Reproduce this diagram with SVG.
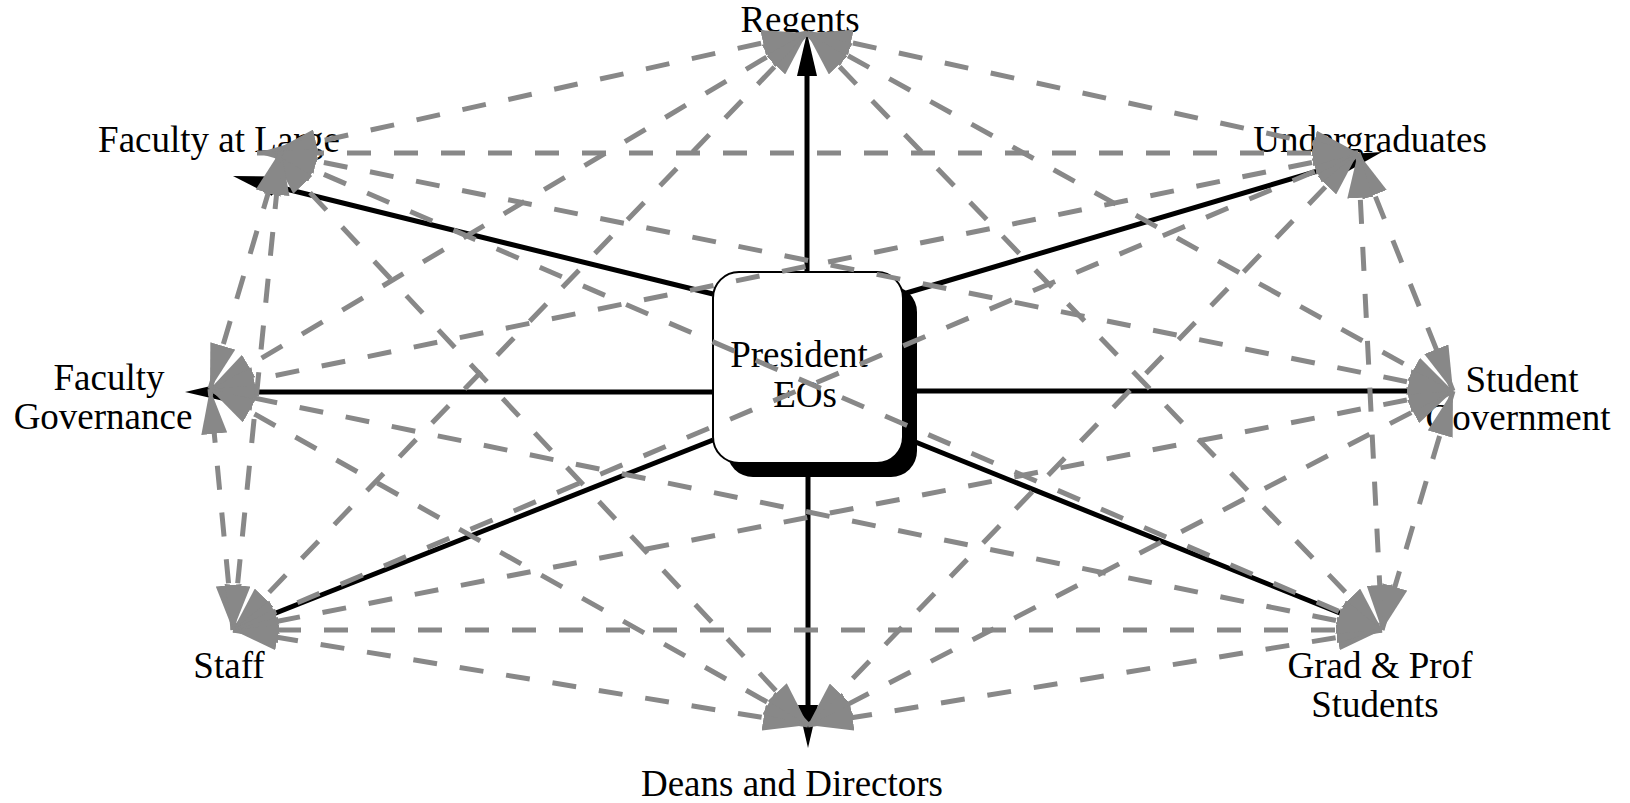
<svg xmlns="http://www.w3.org/2000/svg" width="1630" height="803" viewBox="0 0 1630 803">
  <style>
    .lbl { font-family: "Liberation Serif", "Times New Roman", serif; font-size: 37px; fill: #000; text-anchor: middle; }
    .ctl { stroke: #000; stroke-width: 5; fill: none; marker-end: url(#bh); }
    .rel { stroke: #888; stroke-width: 5; fill: none; stroke-dasharray: 24 23; marker-start: url(#gh); marker-end: url(#gh); }
  </style>
  <defs>
    <marker id="bh" viewBox="0 -10 43 20" refX="23" refY="0" markerWidth="43" markerHeight="20" markerUnits="userSpaceOnUse" orient="auto">
      <path d="M0,-10 L43,0 L0,10 Z" fill="#000"/>
    </marker>
    <marker id="gh" viewBox="0 -13 45 26" refX="45" refY="0" markerWidth="45" markerHeight="26" markerUnits="userSpaceOnUse" orient="auto-start-reverse">
      <path d="M0,-13 L45,0 L0,13 Z" fill="#888"/>
    </marker>
  </defs>
  <rect width="1630" height="803" fill="#fff"/>

  <!-- central office with drop shadow -->
  <g id="president">
    <rect x="727" y="286" width="190" height="191" rx="26" fill="#000"/>
    <rect x="713" y="272" width="190" height="191" rx="26" fill="#fff" stroke="#000" stroke-width="2"/>
    <text class="lbl" x="799" y="367">President</text>
    <text class="lbl" x="805" y="407">EOs</text>
  </g>

  <!-- reporting lines from the president -->
  <g id="control-lines">
    <line class="ctl" x1="807" y1="272" x2="807" y2="53"/>
    <line class="ctl" x1="808" y1="463" x2="808" y2="728"/>
    <line class="ctl" x1="713" y1="392" x2="205" y2="392"/>
    <line class="ctl" x1="903" y1="391" x2="1433" y2="391"/>
    <line class="ctl" x1="713" y1="294" x2="252.4" y2="180.8"/>
    <line class="ctl" x1="903" y1="294" x2="1362.8" y2="157.7"/>
    <line class="ctl" x1="713" y1="440" x2="251.6" y2="622.6"/>
    <line class="ctl" x1="903" y1="437" x2="1363.4" y2="622.5"/>
  </g>

  <!-- constituencies -->
  <g id="regents"><text class="lbl" x="800" y="32">Regents</text></g>
  <g id="faculty-at-large"><text class="lbl" x="219" y="152">Faculty at Large</text></g>
  <g id="undergraduates"><text class="lbl" x="1370" y="152">Undergraduates</text></g>
  <g id="faculty-governance">
    <text class="lbl" x="109" y="390">Faculty</text>
    <text class="lbl" x="103" y="429">Governance</text>
  </g>
  <g id="student-government">
    <text class="lbl" x="1522" y="392">Student</text>
    <text class="lbl" x="1518" y="430">Government</text>
  </g>
  <g id="staff"><text class="lbl" x="229" y="678">Staff</text></g>
  <g id="grad-prof-students">
    <text class="lbl" x="1380" y="678">Grad &amp; Prof</text>
    <text class="lbl" x="1375" y="717">Students</text>
  </g>
  <g id="deans-directors"><text class="lbl" x="792" y="796">Deans and Directors</text></g>

  <!-- peer relationships between constituencies -->
  <g id="relations">
    <!-- Regents -->
    <line class="rel" x1="807" y1="33" x2="1358" y2="153"/>
    <line class="rel" x1="807" y1="33" x2="1453" y2="391"/>
    <line class="rel" x1="807" y1="33" x2="1382" y2="630"/>
    <line class="rel" x1="807" y1="33" x2="233" y2="630"/>
    <line class="rel" x1="807" y1="33" x2="210" y2="389"/>
    <line class="rel" x1="807" y1="33" x2="272" y2="152"/>
    <!-- Undergraduates -->
    <line class="rel" x1="1358" y1="153" x2="1453" y2="391"/>
    <line class="rel" x1="1358" y1="153" x2="1382" y2="630"/>
    <line class="rel" x1="1358" y1="153" x2="808" y2="725"/>
    <line class="rel" x1="1358" y1="153" x2="233" y2="630"/>
    <line class="rel" x1="1358" y1="153" x2="210" y2="389"/>
    <line class="rel" x1="1358" y1="153" x2="257" y2="153"/>
    <!-- Student Government -->
    <line class="rel" x1="1453" y1="391" x2="1382" y2="630"/>
    <line class="rel" x1="1453" y1="391" x2="808" y2="725"/>
    <line class="rel" x1="1453" y1="391" x2="233" y2="630"/>
    <line class="rel" x1="1453" y1="391" x2="272" y2="152"/>
    <!-- Grad & Prof Students -->
    <line class="rel" x1="1382" y1="630" x2="808" y2="725"/>
    <line class="rel" x1="1382" y1="630" x2="233" y2="630"/>
    <line class="rel" x1="1382" y1="630" x2="210" y2="389"/>
    <line class="rel" x1="1382" y1="630" x2="272" y2="152"/>
    <!-- Deans and Directors -->
    <line class="rel" x1="808" y1="725" x2="233" y2="630"/>
    <line class="rel" x1="808" y1="725" x2="210" y2="389"/>
    <line class="rel" x1="808" y1="725" x2="272" y2="152"/>
    <!-- Staff -->
    <line class="rel" x1="233" y1="630" x2="210" y2="389"/>
    <line class="rel" x1="233" y1="630" x2="281" y2="150"/>
    <!-- Faculty Governance -->
    <line class="rel" x1="210" y1="389" x2="281" y2="150"/>
  </g>
</svg>
